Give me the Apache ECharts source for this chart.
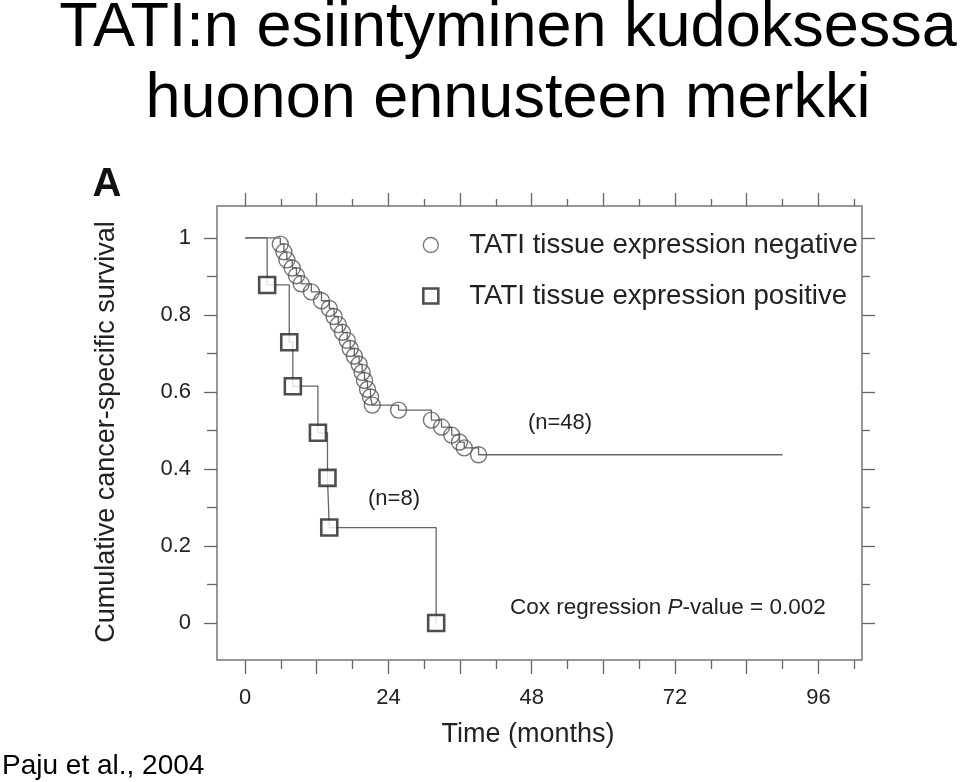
<!DOCTYPE html>
<html>
<head>
<meta charset="utf-8">
<script src="https://cdn.jsdelivr.net/npm/echarts@6/dist/echarts.min.js"></script>
<style>html,body{margin:0;padding:0;background:#fff;}#c{width:960px;height:782px;}</style>
</head>
<body>
<div id="c"></div>
<script>
// ---- data (months, cumulative survival) ----
const negTimes = [5.9, 6.5, 7.0, 7.9, 8.6, 9.4, 11.1, 12.8, 14.1, 14.9, 15.6, 16.3, 17.1, 17.6, 18.3, 19.1, 19.6, 20.0, 20.5, 21.0, 21.3, 25.7, 31.2, 32.9, 34.6, 35.9, 36.7, 39.1];
const negSurv  = [0.984, 0.964, 0.943, 0.922, 0.902, 0.881, 0.860, 0.837, 0.817, 0.796, 0.775, 0.755, 0.734, 0.713, 0.693, 0.672, 0.651, 0.630, 0.607, 0.587, 0.566, 0.553, 0.527, 0.509, 0.488, 0.470, 0.455, 0.437];
const negFollowUpEnd = 90;
const posTimes = [3.7, 7.4, 8.0, 12.2, 13.8, 14.1, 32.0];
const posSurv  = [0.878, 0.729, 0.615, 0.494, 0.377, 0.248, 0.0];
const xTickLabels = [0, 24, 48, 72, 96];
const xMajorTicks = [0, 12, 24, 36, 48, 60, 72, 84, 96];
const xMinorTicks = [6, 18, 30, 42, 54, 66, 78, 90, 102];
const yTickLabels = [0, 0.2, 0.4, 0.6, 0.8, 1];
const yMinorTicks = [0.1, 0.3, 0.5, 0.7, 0.9];
const seriesNames = ['TATI tissue expression negative', 'TATI tissue expression positive'];

const FONT = 'Liberation Sans, Arial, Helvetica, sans-serif';
const negPts = negTimes.map((t, i) => [t, negSurv[i]]);
const posPts = posTimes.map((t, i) => [t, posSurv[i]]);
const negLine = [[0, 1]].concat(negPts, [[negFollowUpEnd, negSurv[negSurv.length - 1]]]);
const posLine = [[0, 1]].concat(posPts);

const XMIN = -4.7, XMAX = 103.3, YMIN = -0.096, YMAX = 1.083;
const tickColor = '#666';
function xAx(pos, ticks, len, labels) {
  return {
    type: 'value', position: pos, min: XMIN, max: XMAX, gridIndex: 0,
    axisLine: { show: false, onZero: false }, splitLine: { show: false },
    axisTick: { show: true, inside: false, length: len, customValues: ticks, lineStyle: { color: tickColor, width: 1.3 } },
    axisLabel: labels ? { show: true, customValues: labels, margin: 27, fontSize: 22, color: '#222', fontFamily: FONT } : { show: false }
  };
}
function yAx(pos, ticks, len, labels) {
  return {
    type: 'value', position: pos, min: YMIN, max: YMAX, gridIndex: 0,
    axisLine: { show: false, onZero: false }, splitLine: { show: false },
    axisTick: { show: true, inside: false, length: len, customValues: ticks, lineStyle: { color: tickColor, width: 1.3 } },
    axisLabel: labels ? { show: true, customValues: labels, margin: 26, fontSize: 22, color: '#222', fontFamily: FONT,
      formatter: v => String(Math.round(v * 10) / 10) } : { show: false }
  };
}

const chart = echarts.init(document.getElementById('c'), null, { renderer: 'canvas' });
function txt(x, y, text, size, opts) {
  opts = opts || {};
  return {
    type: 'text', x: x, y: y, rotation: opts.rotation || 0, z: 100,
    style: {
      text: text, x: 0, y: 0, fontSize: size, fontFamily: FONT, fontWeight: opts.bold ? 'bold' : 'normal',
      fill: opts.color || '#222', align: opts.align || 'center', verticalAlign: 'middle',
      textAlign: opts.align || 'center', textVerticalAlign: 'middle', rich: opts.rich
    }
  };
}
chart.setOption({
  animation: false,
  backgroundColor: '#fff',
  grid: { left: 217, top: 206, right: 98, bottom: 122, show: true, borderColor: '#777', borderWidth: 1.5, containLabel: false },
  xAxis: [
    xAx('bottom', xMajorTicks, 14, xTickLabels),
    xAx('bottom', xMinorTicks, 9, null),
    xAx('top', xMajorTicks, 13, null),
    xAx('top', xMinorTicks, 7, null)
  ],
  yAxis: [
    yAx('left', yTickLabels, 13, yTickLabels),
    yAx('left', yMinorTicks, 10, null),
    yAx('right', yTickLabels, 13, null),
    yAx('right', yMinorTicks, 8, null)
  ],
  legend: {
    orient: 'vertical', left: 422, top: 231, padding: 0, itemWidth: 15, itemHeight: 15, itemGap: 23,
    textStyle: { fontSize: 27.6, color: '#222', fontFamily: FONT, padding: [0, 0, 0, 26] },
    data: [
      { name: seriesNames[0], icon: 'circle', itemStyle: { color: 'rgba(255,255,255,0)', borderColor: '#555', borderWidth: 1.3 } },
      { name: seriesNames[1], icon: 'rect', itemStyle: { color: '#fff', borderColor: '#222', borderWidth: 2.6 } }
    ]
  },
  series: [
    { type: 'line', name: 'neg-curve', step: 'end', data: negLine, showSymbol: false, silent: true,
      lineStyle: { color: '#666', width: 1.3 }, z: 2 },
    { type: 'line', name: 'pos-curve', step: 'end', data: posLine, showSymbol: false, silent: true,
      lineStyle: { color: '#666', width: 1.3 }, z: 2 },
    { type: 'scatter', name: seriesNames[0], data: negPts, symbol: 'circle', symbolSize: 16, z: 3,
      itemStyle: { color: 'rgba(255,255,255,0)', borderColor: '#555', borderWidth: 1.4 } },
    { type: 'scatter', name: seriesNames[1], data: posPts, symbol: 'rect', symbolSize: 16, z: 4,
      itemStyle: { color: '#fff', borderColor: '#222', borderWidth: 2.6 } }
  ],
  graphic: [
    txt(508, 29, 'TATI:n esiintyminen kudoksessa', 63, { color: '#000' }),
    txt(508, 100, 'huonon ennusteen merkki', 63, { color: '#000' }),
    txt(107, 185, 'A', 40, { bold: true, color: '#111' }),
    txt(107, 432, 'Cumulative cancer-specific survival', 27, { rotation: Math.PI / 2 }),
    txt(528, 735, 'Time (months)', 27),
    txt(560, 423, '(n=48)', 22),
    txt(394, 499, '(n=8)', 22),
    txt(510, 608, '{a|Cox regression }{b|P}{a|-value = 0.002}', 22, { align: 'left',
      rich: { a: { fontSize: 22.5, fontFamily: FONT, fill: '#222', color: '#222' }, b: { fontSize: 22.5, fontFamily: FONT, fontStyle: 'italic', fill: '#222', color: '#222' } } }),
    txt(2, 766, 'Paju et al., 2004', 28, { align: 'left', color: '#000' })
  ]
});
</script>
</body>
</html>
